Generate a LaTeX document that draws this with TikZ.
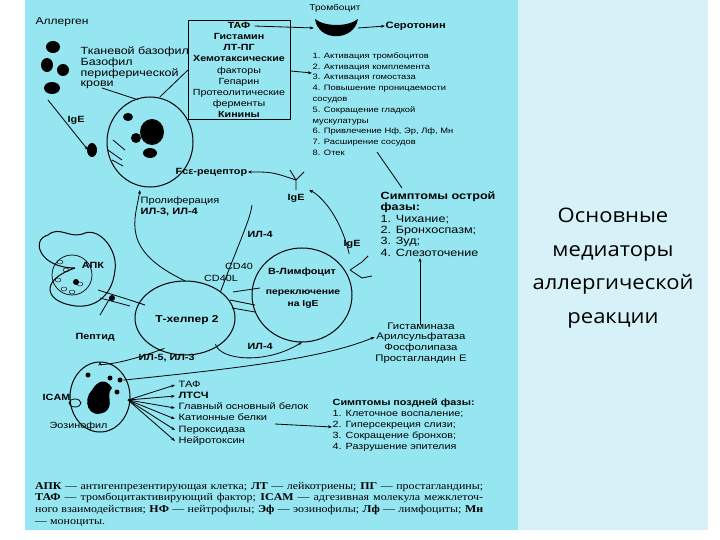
\documentclass[tikz,border=0pt]{standalone}
\usepackage{fontspec}
\setmainfont{Liberation Sans}[FakeStretch=1.2]
\newfontfamily\serifru{Liberation Serif}[FakeStretch=1.15]
\newfontfamily\titlefont{Open Sans}[FakeStretch=1.1]
\usetikzlibrary{arrows.meta,shapes.geometric}
\definecolor{bgc}{HTML}{96E6F2}
\definecolor{rbg}{HTML}{D6F2F8}
\newcommand\fs{\fontsize{9}{10}\selectfont}
\tikzset{
  t/.style={font=\fs, inner sep=0.5pt, anchor=west},
  tb/.style={t, font=\fs\bfseries},
  c/.style={font=\fs, inner sep=0.5pt},
  cb/.style={c, font=\fs\bfseries},
  ln/.style={line width=0.8pt},
  ar/.style={ln, -{Stealth[length=4pt,width=3pt]}},
  cell/.style={draw, line width=1pt},
  blob/.style={fill=black}
}
\begin{document}
\begin{tikzpicture}[x=1pt,y=-1pt]
\useasboundingbox (0,0) rectangle (720,540);
\fill[white] (0,0) rectangle (720,540);
\fill[rbg] (518,0) rectangle (708,530);
\fill[bgc] (25,0) rectangle (518,530);
\node[font=\titlefont\fontsize{20}{33.5}\selectfont, align=center] (title) at (613,268) {Основные\\медиаторы\\аллергической\\реакции};

% allergen
\node[t, font=\fontsize{10}{11}\selectfont] (allerg) at (35,22) {Аллерген};
\fill[blob] (53,47) ellipse (7 and 6);
\fill[blob] (47,65) ellipse (6 and 7);
\fill[blob] (63,70) ellipse (6 and 6);
\fill[blob] (52,88) ellipse (8 and 6);
\coordinate (allergpt) at (48,100);

% basophil
\node[t, align=left, font=\fontsize{10.4}{10.8}\selectfont] (baslbl) at (80,68) {Тканевой базофил\\Базофил\\периферической\\крови};
\draw[cell] (150,142) ellipse (43 and 45);
\node[circle, minimum size=88pt, inner sep=0] (basc) at (150,142) {};
\fill[blob] (128,117) ellipse (5 and 4);
\fill[blob] (152,132) ellipse (12 and 13);
\fill[blob] (136,138) ellipse (5 and 5);
\fill[blob] (150,153) ellipse (7 and 5);
\draw[ln] (113,140) -- (125,150) (108,150) -- (122,160) (112,160) -- (123,166);
\fill[blob] (92,150) ellipse (5 and 7);
\draw[ln] (basc.north) ++(-12,2) -- (102,88);
\draw[ln] (basc.north) ++(10,-1) -- (188,70);

% box
\node[draw, line width=1pt, align=center, inner sep=2pt, font=\fontsize{8.9}{11.1}\selectfont, minimum width=102pt] (box) at (239,70)
 {\textbf{ТАФ}\\\textbf{Гистамин}\\\textbf{ЛТ-ПГ}\\\textbf{Хемотаксические}\\факторы\\Гепарин\\Протеолитические\\ферменты\\\textbf{Кинины}};
\node[c, font=\fontsize{8.4}{10}\selectfont] (thromlbl) at (335,8) {Тромбоцит};
\node[inner sep=0, minimum width=44pt, minimum height=16pt] (platelet) at (336,28) {};
\fill[blob] (315,19) .. controls (318,42) and (354,42) .. (358,19) .. controls (348,27) and (325,27) .. (315,19);
\node[cb, font=\fontsize{9.3}{10}\selectfont\bfseries, anchor=west] (sero) at (385,26) {Серотонин};
\draw[ar] (box.north east) ++(-36,6) -- (platelet.west);
\draw[ar] (platelet.east) -- (sero.west);

\node[t, align=left, font=\fontsize{7.8}{10.8}\selectfont] (list) at (312,104) {1. Активация тромбоцитов\\2. Активация комплемента\\3. Активация гомостаза\\4. Повышение проницаемости\\сосудов\\5. Сокращение гладкой\\мускулатуры\\6. Привлечение Нф, Эр, Лф, Мн\\7. Расширение сосудов\\8. Отек};
\draw[ar] (box.east |- 0,71) -- (list.west |- 0,73);

\node[tb] (ige1) at (67,120) {IgE};
\draw[ar] (allergpt) -- (88,150);
\node[tb] (fce) at (175,172) {Fcε-рецептор};
\node[tb] (ige2) at (287,198) {IgE};
\draw[ln] (296,180) -- (290,170) (296,180) -- (304,172) (296,180) -- (296,190);
\draw[ar] (296,180) .. controls (272,172) .. (fce.east);

\node[t, align=left, font=\fontsize{9.2}{11}\selectfont] (prolif) at (140,206) {Пролиферация\\\textbf{ИЛ-3, ИЛ-4}};

\node[tb, align=left, font=\fontsize{10.5}{11.3}\bfseries\selectfont] (acute) at (380,224) {Симптомы острой\\фазы:\\\mdseries 1. Чихание;\\\mdseries 2. Бронхоспазм;\\\mdseries 3. Зуд;\\\mdseries 4. Слезоточение};
\draw[ln] (377,152) -- (402,188);

% APC
\draw[cell] (75,268) .. controls (40,268) and (30,240) .. (48,235) .. controls (60,225) and (70,240) .. (85,233) .. controls (100,228) and (118,250) .. (115,270) .. controls (112,300) and (90,310) .. (70,305) .. controls (45,300) and (40,280) .. (75,268);
\node[circle, minimum size=70pt, inner sep=0] (apc) at (78,268) {};
\draw[line width=0.7pt] (72,275) circle (20);
\node[cb] (apclbl) at (93,265) {АПК};
\foreach \p in {(58,280),(64,289),(72,292),(80,284),(66,270),(60,262)} \draw \p ellipse (3 and 2);
\fill (76,282) circle (3);
\node[tb] (pept) at (75,337) {Пептид};

% Th2 & B
\draw[cell] (185,318) ellipse (50 and 37);
\node[ellipse, minimum width=100pt, minimum height=74pt, inner sep=0] (th2) at (185,318) {};
\node[cb, font=\fontsize{10}{10}\bfseries\selectfont] (th2lbl) at (187,320) {Т-хелпер 2};
\draw[cell] (302,295) ellipse (50 and 47);
\node[minimum width=100pt, minimum height=94pt, inner sep=0] (bl) at (302,295) {};
\node[cb, align=center] (bllbl) at (302,272) {В-Лимфоцит};
\node[cb, align=center, font=\fontsize{8.6}{11.5}\bfseries\selectfont] (switch) at (303,299) {переключение\\на IgE};
\node[c] (cd40) at (239,266) {CD40};
\node[c] (cd40l) at (221,278) {CD40L};
\draw[ln] (98,290) -- (130,300) (100,298) -- (130,306) (130,300) -- (145,305);
\fill (112,298) circle (3);
\draw[ln] (100,315) -- (110,298);
\draw[ln] (233,292) -- (260,288) (230,300) -- (255,305) (232,308) -- (255,312);
\draw[ar] (th2.north) .. controls (120,250) and (135,220) .. (140,190);
\draw[ln] (th2.north east) .. controls (240,240) and (250,220) .. (252,205);
\node[tb] (il4a) at (247,234) {ИЛ-4};
\draw[ar] (bl.north east) ++(-3,6) .. controls (340,215) and (320,195) .. (309,190);
\node[tb] (ige3) at (343,244) {IgE};
\draw[ln] (350,270) -- (362,262) (350,270) -- (362,278) (362,262) -- (368,256) (362,278) -- (372,276);
\node[tb] (il4b) at (247,346) {ИЛ-4};
\draw[ar] (th2.south east) ++(-5,0) .. controls (220,360) and (265,365) .. (bl.south);
\node[tb] (il53) at (138,358) {ИЛ-5, ИЛ-3};

% eosinophil
\draw[cell] (100,397) ellipse (30 and 35);
\node[ellipse, minimum width=60pt, minimum height=70pt, inner sep=0] (eos) at (100,397) {};
\fill[blob] (92,390) .. controls (82,400) and (88,420) .. (105,412) .. controls (115,405) and (105,395) .. (112,388) .. controls (106,378) and (98,380) .. (92,390);
\foreach \p in {(88,375),(110,378),(117,392),(120,380)} \fill \p circle (2.5);
\draw[ln] (75,403) ellipse (6 and 4);
\node[tb] (icam) at (42,397) {ICAM};
\node[t] (eoslbl) at (49,426) {Эозинофил};
\draw[ar] (th2.south west) ++(15,4) .. controls (120,365) and (100,365) .. (eos.north);

\node[t, align=left, font=\fontsize{9.2}{11.2}\selectfont] (prod) at (178,413) {ТАФ\\\textbf{ЛТСЧ}\\Главный основный белок\\Катионные белки\\Пероксидаза\\Нейротоксин};
\foreach \y in {385,396,408,419,430,441} \draw[ar] (128,400) -- (175,\y);

\node[c, align=center, font=\fontsize{9.5}{10.6}\selectfont] (enz) at (421,343) {Гистаминаза\\Арилсульфатаза\\Фосфолипаза\\Простагландин Е};
\draw[ar] (420,325) -- (420,258);
\draw[ar] (eos.north east) ++(2,8) .. controls (220,370) and (320,360) .. (enz.west |- 0,337);

\node[tb, align=left, font=\fontsize{9}{11.2}\bfseries\selectfont] (late) at (332,425) {Симптомы поздней фазы:\\\mdseries 1. Клеточное воспаление;\\\mdseries 2. Гиперсекреция слизи;\\\mdseries 3. Сокращение бронхов;\\\mdseries 4. Разрушение эпителия};
\draw[ar] (275,424) -- (late.west |- 0,427);

\node[anchor=north west, text width=448pt, align=justify, inner sep=0, font=\serifru\fontsize{10.4}{11.6}\selectfont] (foot) at (35,482)
{\textbf{АПК} — антигенпрезентирующая клетка; \textbf{ЛТ} — лейкотриены; \textbf{ПГ} — простагландины; \textbf{ТАФ} — тромбоцитактивирующий фактор; \textbf{ICAM} — адгезивная молекула межклеточ\-ного взаимодействия; \textbf{НФ} — нейтрофилы; \textbf{Эф} — эозинофилы; \textbf{Лф} — лимфоциты; \textbf{Мн} — моноциты.};
\end{tikzpicture}
\end{document}
